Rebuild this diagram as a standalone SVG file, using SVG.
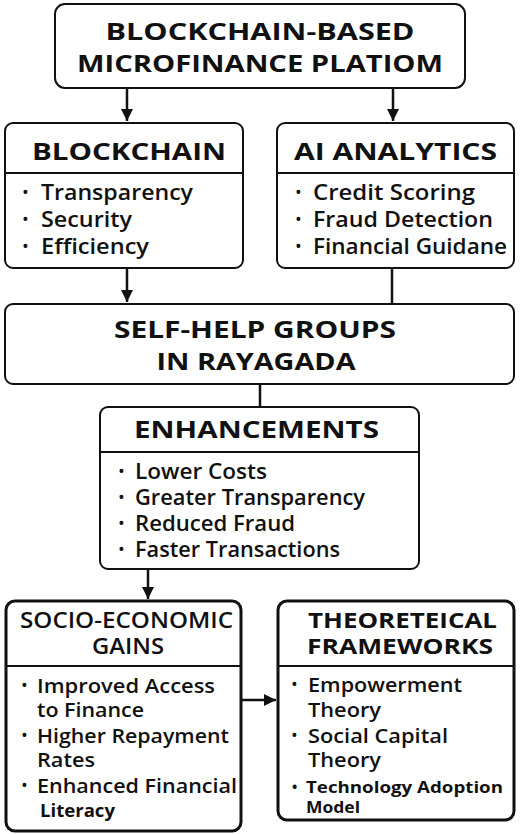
<svg xmlns="http://www.w3.org/2000/svg" width="520" height="834" viewBox="0 0 520 834">
<style>
.box{fill:#fff;stroke:#111;stroke-width:2}
.thick{stroke-width:3}
.div{stroke:#111;stroke-width:2}
.h{font-family:"Open Sans","Liberation Sans",sans-serif;font-weight:700;fill:#111}
.h23{font-size:23px}
.h24{font-size:24px}
.h21{font-size:21px}
.b{font-family:"Open Sans","Liberation Sans",sans-serif;font-weight:600;font-size:21px;fill:#111}
.b2{font-size:20px}
.dot{font-family:"Open Sans","Liberation Sans",sans-serif;font-weight:400;font-size:18px;fill:#111}
.s{font-family:"Open Sans","Liberation Sans",sans-serif;font-weight:700;font-size:16px;fill:#111}
.c{fill:none;stroke:#111;stroke-width:2.5}
</style>
<defs>
<marker id="ah" viewBox="0 0 10 10" refX="10" refY="5" markerWidth="5" markerHeight="5" orient="auto" markerUnits="strokeWidth">
<path d="M0,0 L10,5 L0,10 z" fill="#111"/>
</marker>
</defs>
<rect width="520" height="834" fill="#fff"/>
<g id="connectors">
<line class="c" x1="127" y1="88" x2="127" y2="121" marker-end="url(#ah)"/>
<line class="c" x1="393" y1="88" x2="393" y2="121" marker-end="url(#ah)"/>
<line class="c" x1="127" y1="268" x2="127" y2="302" marker-end="url(#ah)"/>
<line class="c" x1="392" y1="268" x2="392" y2="304"/>
<line class="c" x1="260" y1="384" x2="260" y2="407"/>
<line class="c" x1="148" y1="569" x2="148" y2="599" marker-end="url(#ah)"/>
<line class="c" x1="241" y1="700" x2="276" y2="700" marker-end="url(#ah)"/>
</g>
<g id="platform">
<rect class="box" x="55" y="4" width="410" height="84" rx="10"/>
<text class="h h23" x="260" y="40" text-anchor="middle" textLength="309" lengthAdjust="spacingAndGlyphs">BLOCKCHAIN-BASED</text>
<text class="h h23" x="260" y="72" text-anchor="middle" textLength="366" lengthAdjust="spacingAndGlyphs">MICROFINANCE PLATIOM</text>
</g>
<g id="blockchain">
<rect class="box" x="5" y="123" width="238" height="145" rx="8"/>
<line class="div" x1="5" y1="173" x2="243" y2="173"/>
<text class="h h24" x="32" y="160" textLength="194" lengthAdjust="spacingAndGlyphs">BLOCKCHAIN</text>
<text class="dot" x="22" y="199">•</text><text class="b" x="41" y="200" textLength="152" lengthAdjust="spacingAndGlyphs">Transparency</text>
<text class="dot" x="22" y="226">•</text><text class="b" x="41" y="227" textLength="91" lengthAdjust="spacingAndGlyphs">Security</text>
<text class="dot" x="22" y="253">•</text><text class="b" x="41" y="254" textLength="108" lengthAdjust="spacingAndGlyphs">Efficiency</text>
</g>
<g id="ai">
<rect class="box" x="277" y="123" width="237" height="145" rx="8"/>
<line class="div" x1="277" y1="173" x2="514" y2="173"/>
<text class="h h24" x="294" y="160" textLength="203" lengthAdjust="spacingAndGlyphs">AI ANALYTICS</text>
<text class="dot" x="295" y="199">•</text><text class="b" x="313" y="200" textLength="162" lengthAdjust="spacingAndGlyphs">Credit Scoring</text>
<text class="dot" x="295" y="226">•</text><text class="b" x="313" y="227" textLength="180" lengthAdjust="spacingAndGlyphs">Fraud Detection</text>
<text class="dot" x="295" y="253">•</text><text class="b" x="313" y="254" textLength="194" lengthAdjust="spacingAndGlyphs">Financial Guidane</text>
</g>
<g id="shg">
<rect class="box" x="5" y="304" width="509" height="80" rx="8"/>
<text class="h h23" x="255" y="338" text-anchor="middle" textLength="282" lengthAdjust="spacingAndGlyphs">SELF-HELP GROUPS</text>
<text class="h h23" x="256" y="370" text-anchor="middle" textLength="199" lengthAdjust="spacingAndGlyphs">IN RAYAGADA</text>
</g>
<g id="enhancements">
<rect class="box" x="100" y="407" width="319" height="162" rx="8"/>
<line class="div" x1="100" y1="452" x2="419" y2="452"/>
<text class="h h23" x="134" y="438" textLength="245" lengthAdjust="spacingAndGlyphs">ENHANCEMENTS</text>
<text class="dot" x="118" y="478">•</text><text class="b" x="135" y="479" textLength="132" lengthAdjust="spacingAndGlyphs">Lower Costs</text>
<text class="dot" x="118" y="504">•</text><text class="b" x="135" y="505" textLength="230" lengthAdjust="spacingAndGlyphs">Greater Transparency</text>
<text class="dot" x="118" y="530">•</text><text class="b" x="135" y="531" textLength="160" lengthAdjust="spacingAndGlyphs">Reduced Fraud</text>
<text class="dot" x="118" y="556">•</text><text class="b" x="135" y="557" textLength="205" lengthAdjust="spacingAndGlyphs">Faster Transactions</text>
</g>
<g id="socio">
<rect class="box thick" x="6" y="601" width="235" height="230" rx="9"/>
<line class="div" x1="6" y1="666" x2="241" y2="666"/>
<text class="h h21" x="20" y="628" textLength="213" lengthAdjust="spacingAndGlyphs" style="font-weight:600">SOCIO-ECONOMIC</text>
<text class="h h21" x="92" y="654" textLength="72" lengthAdjust="spacingAndGlyphs" style="font-weight:600">GAINS</text>
<text class="dot" x="21" y="692">•</text><text class="b b2" x="37" y="693" textLength="178" lengthAdjust="spacingAndGlyphs">Improved Access</text>
<text class="b b2" x="37" y="717" textLength="107" lengthAdjust="spacingAndGlyphs">to Finance</text>
<text class="dot" x="21" y="742">•</text><text class="b b2" x="37" y="743" textLength="192" lengthAdjust="spacingAndGlyphs">Higher Repayment</text>
<text class="b b2" x="37" y="767" textLength="58" lengthAdjust="spacingAndGlyphs">Rates</text>
<text class="dot" x="21" y="792">•</text><text class="b b2" x="37" y="793" textLength="200" lengthAdjust="spacingAndGlyphs">Enhanced Financial</text>
<text class="s" x="40" y="817" textLength="75" lengthAdjust="spacingAndGlyphs" style="font-size:17px">Literacy</text>
</g>
<g id="frameworks">
<rect class="box thick" x="278" y="601" width="236" height="219" rx="9"/>
<line class="div" x1="278" y1="666" x2="514" y2="666"/>
<text class="h h21" x="308" y="628" textLength="189" lengthAdjust="spacingAndGlyphs">THEORETEICAL</text>
<text class="h h21" x="307" y="654" textLength="186" lengthAdjust="spacingAndGlyphs">FRAMEWORKS</text>
<text class="dot" x="291" y="691">•</text><text class="b b2" x="308" y="692" textLength="154" lengthAdjust="spacingAndGlyphs">Empowerment</text>
<text class="b b2" x="308" y="717" textLength="73" lengthAdjust="spacingAndGlyphs">Theory</text>
<text class="dot" x="291" y="742">•</text><text class="b b2" x="308" y="743" textLength="140" lengthAdjust="spacingAndGlyphs">Social Capital</text>
<text class="b b2" x="308" y="767" textLength="73" lengthAdjust="spacingAndGlyphs">Theory</text>
<text class="s" x="292" y="792" style="font-size:14px">•</text><text class="s" x="306" y="793" textLength="197" lengthAdjust="spacingAndGlyphs">Technology Adoption</text>
<text class="s" x="306" y="813" textLength="54" lengthAdjust="spacingAndGlyphs">Model</text>
</g>
</svg>
